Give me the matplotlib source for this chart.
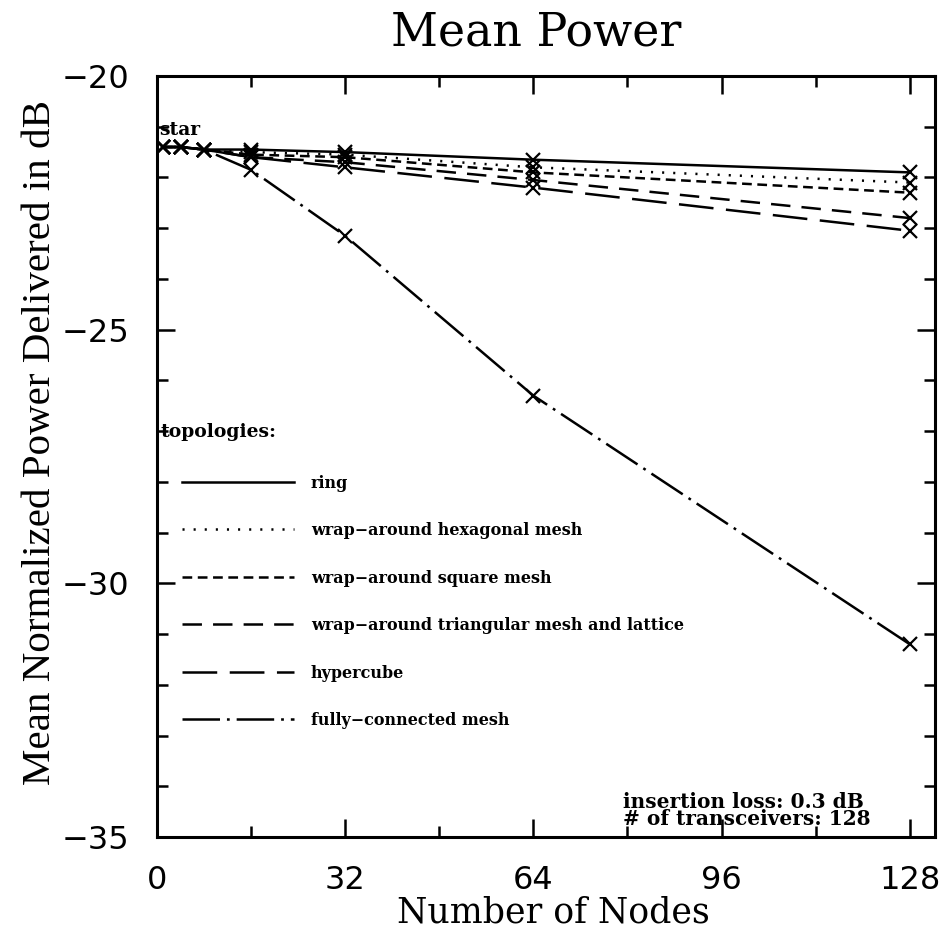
import numpy as np
import matplotlib.pyplot as plt

plt.rcParams['lines.scale_dashes'] = False

# Datos
nodes = [1, 4, 8, 16, 32, 64, 128]
ring = [-21.4, -21.4, -21.45, -21.45, -21.5, -21.65, -21.9]
hexagonal = [-21.4, -21.4, -21.45, -21.5, -21.55, -21.8, -22.1]
square = [-21.4, -21.4, -21.45, -21.55, -21.6, -21.9, -22.3]
triangular = [-21.4, -21.4, -21.45, -21.6, -21.7, -22.05, -22.8]
hypercube = [-21.4, -21.4, -21.45, -21.6, -21.8, -22.2, -23.05]
fully = [-21.4, -21.4, -21.45, -21.85, -23.15, -26.3, -31.2]

labels = ['ring', 'wrap\u2212around hexagonal mesh', 'wrap\u2212around square mesh',
          'wrap\u2212around triangular mesh and lattice', 'hypercube',
          'fully\u2212connected mesh']
styles = ['-', (0, (1.5, 6.5)), (0, (7, 4)), (0, (14, 8)), (0, (25, 9)),
          (0, (27, 5, 2, 5))]
series = [ring, hexagonal, square, triangular, hypercube, fully]

fig = plt.figure(figsize=(9.53, 9.41), dpi=100)
ax = fig.add_axes([157 / 953, 1 - 837 / 941, (935 - 157) / 953, (837 - 76) / 941])

handles = []
for y, ls, lab in zip(series, styles, labels):
    ax.plot(nodes, y, color='black', lw=1.8, linestyle=ls,
            marker='x', markersize=10, markeredgewidth=1.6)
    h, = ax.plot([], [], color='black', lw=1.8, linestyle=ls, label=lab)
    handles.append(h)

ax.set_xlim(0, 132.3)
ax.set_ylim(-35, -20)
ax.set_xticks([0, 32, 64, 96, 128])
ax.set_xticks([16, 48, 80, 112], minor=True)
ax.set_yticks([-20, -25, -30, -35])
ax.set_yticks(np.arange(-35, -20, 1), minor=True)
ax.set_yticklabels(['\u221220', '\u221225', '\u221230', '\u221235'])
ax.tick_params(which='both', direction='in', top=True, right=True, width=1.8)
ax.tick_params(which='major', length=13, labelsize=23, pad=20)
ax.tick_params(which='minor', length=8)
for s in ax.spines.values():
    s.set_linewidth(2.2)

ax.set_xlabel('Number of Nodes', family='DejaVu Serif', fontsize=25, va='center')
ax.xaxis.set_label_coords(0.51, -0.0986)
ax.set_ylabel('Mean Normalized Power Delivered in dB', family='Liberation Serif',
              fontsize=29.5, va='center')
ax.yaxis.set_label_coords(-0.150, 0.518)
ax.text(0.488, 1.0565, 'Mean Power', family='DejaVu Serif', fontsize=33,
        ha='center', va='center', transform=ax.transAxes)

ax.text(0.4, -21.06, 'star', fontsize=13.5, fontweight='bold', family='DejaVu Serif',
        va='center')
ax.text(0.599, 0.059, 'insertion loss: 0.3 dB\n# of transceivers: 128', fontsize=14.5,
        fontweight='bold', family='DejaVu Serif', linespacing=0.8, va='top',
        transform=ax.transAxes)

ax.text(0.005, 0.532, 'topologies:', fontsize=13.5, fontweight='bold',
        family='DejaVu Serif', va='center', transform=ax.transAxes)
ax.legend(handles=handles, loc='upper left', bbox_to_anchor=(0.018, 0.491),
          frameon=False, handlelength=7.0, handletextpad=1.06, labelspacing=1.91,
          borderpad=0.2, prop={'family': 'DejaVu Serif', 'weight': 'bold', 'size': 11.5})

fig.savefig('out.png', dpi=100)
